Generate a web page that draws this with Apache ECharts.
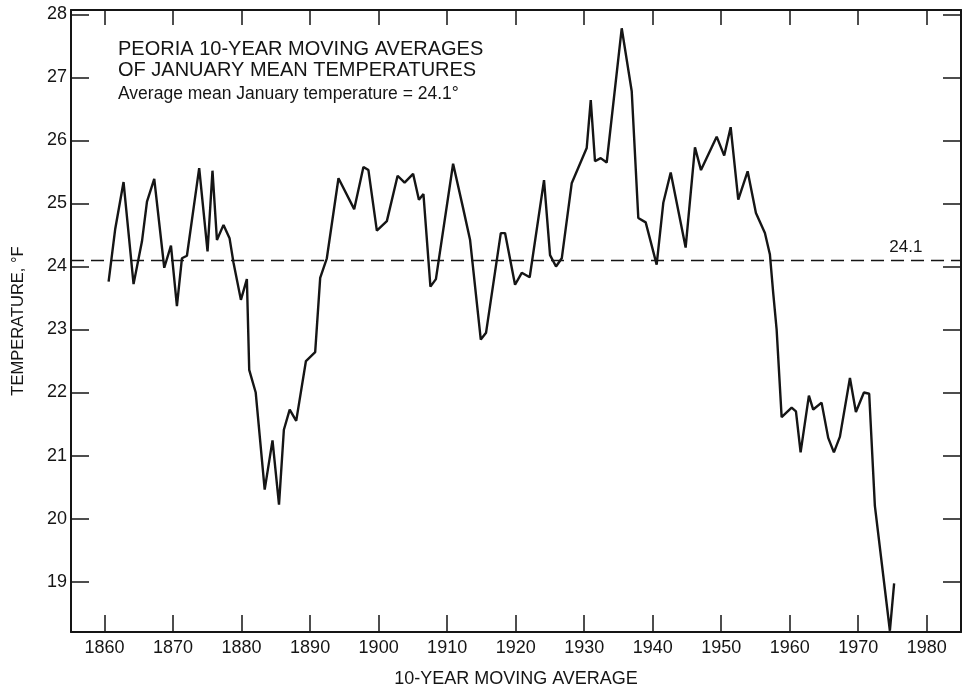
<!DOCTYPE html>
<html>
<head>
<meta charset="utf-8">
<script src="https://cdn.jsdelivr.net/npm/echarts@6/dist/echarts.min.js"></script>
<style>
html,body{margin:0;padding:0;background:#fff;}
#chart{width:969px;height:695px;}
</style>
</head>
<body>
<div id="chart"></div>
<script>
// Year positions (10-year moving average points)
const years = [1860.59,1861.56,1862.77,1864.23,1865.46,1866.19,1867.25,1868.71,1869.69,1870.56,
1871.29,1872.02,1873.81,1875.03,1875.75,1876.40,1877.36,1878.24,1878.82,1879.90,
1880.77,1881.11,1882.06,1883.37,1884.51,1885.46,1886.17,1887.02,1887.97,1889.39,
1890.74,1891.47,1892.44,1894.14,1896.43,1897.78,1898.51,1899.74,1901.20,1902.77,
1903.79,1905.03,1905.88,1906.54,1907.56,1908.36,1910.87,1912.28,1913.35,1914.91,
1915.68,1917.83,1918.45,1919.91,1920.89,1922.05,1924.14,1925.02,1925.89,1926.73,
1928.18,1930.37,1930.96,1931.58,1932.41,1933.29,1935.48,1936.94,1937.90,1938.98,
1940.58,1941.55,1942.63,1944.81,1946.17,1947.05,1949.34,1950.44,1951.38,1952.49,
1953.86,1955.07,1956.38,1957.11,1957.59,1958.09,1958.82,1960.28,1960.91,1961.59,
1962.80,1963.43,1964.65,1965.62,1966.45,1967.33,1968.79,1969.66,1970.83,1971.60,
1972.43,1974.62,1975.24];
// Temperatures, °F
const temps = [23.76,24.60,25.34,23.72,24.40,25.03,25.39,23.98,24.33,23.37,
24.13,24.17,25.56,24.24,25.52,24.42,24.66,24.45,24.06,23.47,
23.80,22.36,22.00,20.46,21.24,20.22,21.41,21.73,21.55,22.50,
22.64,23.82,24.13,25.40,24.91,25.58,25.53,24.57,24.72,25.44,
25.33,25.47,25.06,25.15,23.68,23.80,25.63,24.95,24.42,22.84,
22.95,24.53,24.53,23.71,23.90,23.83,25.37,24.18,24.00,24.13,
25.32,25.88,26.64,25.67,25.72,25.65,27.78,26.78,24.77,24.70,
24.03,25.01,25.49,24.30,25.89,25.53,26.06,25.76,26.21,25.06,
25.51,24.85,24.53,24.19,23.58,23.00,21.61,21.76,21.70,21.05,
21.95,21.73,21.84,21.28,21.05,21.30,22.23,21.69,22.00,21.98,
20.20,18.22,18.97];
const xTickValues = [1860,1870,1880,1890,1900,1910,1920,1930,1940,1950,1960,1970,1980];
const yTickValues = [19,20,21,22,23,24,25,26,27,28];
const meanTemp = 24.1;
const meanLabelYear = 1976.95;
const titleLines = ['PEORIA 10-YEAR MOVING AVERAGES','OF JANUARY MEAN TEMPERATURES'];
const subtitle = 'Average mean January temperature = 24.1°';

const ink = '#151515';
const font = '"Liberation Sans", Arial, Helvetica, sans-serif';
const points = years.map((y, i) => [y, temps[i]]);

const chart = echarts.init(document.getElementById('chart'), null, {renderer: 'canvas'});
const xBase = {
  type: 'value', min: 1855.1, max: 1985,
  splitLine: {show: false},
  axisLine: {show: true, lineStyle: {color: ink, width: 2}}
};
const yBase = {
  type: 'value', min: 18.2, max: 28.07,
  splitLine: {show: false},
  axisLine: {show: true, lineStyle: {color: ink, width: 2}}
};
chart.setOption({
  animation: false,
  backgroundColor: '#fff',
  grid: {left: 71, right: 8, top: 10, bottom: 63, containLabel: false},
  graphic: [
    {type: 'text', left: 118, top: 39, style: {text: titleLines[0], font: '20px ' + font, fill: ink}},
    {type: 'text', left: 118, top: 60, style: {text: titleLines[1], font: '20px ' + font, fill: ink}},
    {type: 'text', left: 118, top: 85, style: {text: subtitle, font: '17.5px ' + font, fill: ink}}
  ],
  xAxis: [
    Object.assign({}, xBase, {
      position: 'bottom',
      name: '10-YEAR MOVING AVERAGE', nameLocation: 'middle', nameGap: 38,
      nameTextStyle: {fontFamily: font, fontSize: 18, color: ink},
      axisTick: {show: true, inside: true, length: 17, customValues: xTickValues, lineStyle: {color: ink, width: 1.5}},
      axisLabel: {show: true, customValues: xTickValues, formatter: v => String(Math.round(v)), fontFamily: font, fontSize: 18, color: ink, margin: 7}
    }),
    Object.assign({}, xBase, {
      position: 'top',
      axisTick: {show: true, inside: true, length: 15, customValues: xTickValues, lineStyle: {color: ink, width: 1.5}},
      axisLabel: {show: false}
    })
  ],
  yAxis: [
    Object.assign({}, yBase, {
      position: 'left',
      name: 'TEMPERATURE, °F', nameLocation: 'middle', nameGap: 44, nameRotate: 90,
      nameTextStyle: {fontFamily: font, fontSize: 16.5, color: ink},
      axisTick: {show: true, inside: true, length: 18, customValues: yTickValues, lineStyle: {color: ink, width: 1.5}},
      axisLabel: {show: true, customValues: yTickValues, formatter: v => String(Math.round(v)), fontFamily: font, fontSize: 18, color: ink, margin: 4}
    }),
    Object.assign({}, yBase, {
      position: 'right',
      axisTick: {show: true, inside: true, length: 18, customValues: yTickValues, lineStyle: {color: ink, width: 1.5}},
      axisLabel: {show: false}
    })
  ],
  series: [{
    type: 'line',
    xAxisIndex: 0, yAxisIndex: 0,
    data: points,
    showSymbol: false, symbol: 'none',
    lineStyle: {color: ink, width: 2.4},
    silent: true,
    markLine: {
      silent: true, symbol: 'none',
      label: {show: false},
      lineStyle: {color: ink, width: 1.4, type: [13, 7]},
      data: [{yAxis: meanTemp}]
    },
    markPoint: {
      silent: true, symbol: 'circle', symbolSize: 1,
      itemStyle: {color: 'rgba(0,0,0,0)'},
      label: {show: true, position: 'top', distance: 4, formatter: String(meanTemp), fontFamily: font, fontSize: 17, color: ink},
      data: [{coord: [meanLabelYear, meanTemp]}]
    }
  }]
});
</script>
</body>
</html>
